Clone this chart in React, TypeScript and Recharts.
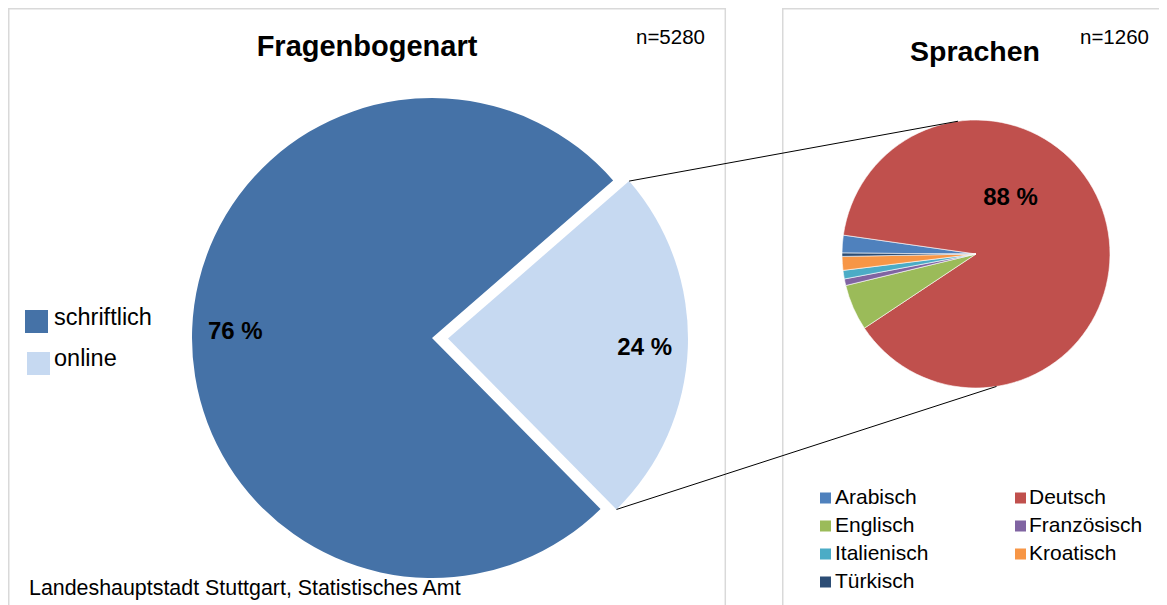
import React from "react";
import { PieChart, Pie, Cell } from "recharts";

// ---------- data ----------
const formCategories = ["schriftlich", "online"];
const formShares = [76, 24];
const formTitle = "Fragenbogenart";
const formN = "n=5280";

const languageCategories = [
  "Arabisch",
  "Deutsch",
  "Englisch",
  "Französisch",
  "Italienisch",
  "Kroatisch",
  "Türkisch",
];
const languageCounts = [27, 1114, 70, 10, 13, 21, 5];
const languageTitle = "Sprachen";
const languageN = "n=1260";

const sourceNote = "Landeshauptstadt Stuttgart, Statistisches Amt";

// ---------- styles ----------
const FONT = "'Liberation Sans', Arial, Helvetica, sans-serif";
const formColors = ["#4572A7", "#C6D9F1"];
const languageColors = [
  "#4F81BD",
  "#C0504D",
  "#9BBB59",
  "#8064A2",
  "#4BACC6",
  "#F79646",
  "#2C4D75",
];

const W = 1159;
const H = 597;

// left pie geometry
const L_CX = 424;
const L_CY = 330;
const L_R = 240;
const L_START = 314.6;
const EXPLODE = 16;
const EXPLODE_ANGLE = -2; // direction of the exploded slice
const LX_CX = L_CX + EXPLODE * Math.cos((EXPLODE_ANGLE * Math.PI) / 180);
const LX_CY = L_CY - EXPLODE * Math.sin((EXPLODE_ANGLE * Math.PI) / 180);

// right pie geometry
const R_CX = 968;
const R_CY = 246;
const R_R = 134;
const R_START = 179.6;
const R_LINE_TOP_ANGLE = 97.7;
const R_LINE_BOTTOM_ANGLE = -81.2;
const DEUTSCH_LABEL_ANGLE = 59;
const DEUTSCH_LABEL_RADIUS = 0.5;

const formData = formCategories.map((name, i) => ({ name, value: formShares[i] }));
const languageData = languageCategories.map((name, i) => ({
  name,
  value: languageCounts[i],
}));

const polar = (cx: number, cy: number, r: number, angle: number) => ({
  x: cx + r * Math.cos((angle * Math.PI) / 180),
  y: cy - r * Math.sin((angle * Math.PI) / 180),
});

const makeLeftLabel = (visibleIndex: number) => (props: any) => {
  if (props.index !== visibleIndex) return null;
  const p = polar(props.cx, props.cy, props.outerRadius * 0.82, props.midAngle);
  return (
    <text
      x={p.x}
      y={p.y}
      textAnchor="middle"
      dominantBaseline="central"
      fontFamily={FONT}
      fontWeight="bold"
      fontSize={24}
      fill="#000"
    >
      {`${formShares[visibleIndex]} %`}
    </text>
  );
};

const renderLanguageLabel = (props: any) => {
  if (props.index !== 1) return null;
  const p = polar(
    props.cx,
    props.cy,
    props.outerRadius * DEUTSCH_LABEL_RADIUS,
    DEUTSCH_LABEL_ANGLE
  );
  return (
    <text
      x={p.x}
      y={p.y}
      textAnchor="middle"
      dominantBaseline="central"
      fontFamily={FONT}
      fontWeight="bold"
      fontSize={24}
      fill="#000"
    >
      {`${Math.round(props.percent * 100)} %`}
    </text>
  );
};

export default function App() {
  const total = formShares.reduce((a, b) => a + b, 0);
  const onlineStart = L_START - (formShares[0] / total) * 360;
  const onlineEnd = onlineStart - (formShares[1] / total) * 360;
  const c1 = polar(LX_CX, LX_CY, L_R, onlineStart);
  const c2 = polar(LX_CX, LX_CY, L_R, onlineEnd);
  const t1 = polar(R_CX, R_CY, R_R, R_LINE_TOP_ANGLE);
  const t2 = polar(R_CX, R_CY, R_R, R_LINE_BOTTOM_ANGLE);

  return (
    <div
      style={{
        position: "relative",
        width: W,
        height: H,
        overflow: "hidden",
        fontFamily: FONT,
        background: "#fff",
      }}
    >
      <PieChart width={W} height={H} margin={{ top: 0, right: 0, bottom: 0, left: 0 }}>
        <Pie
          data={formData}
          dataKey="value"
          nameKey="name"
          cx={L_CX}
          cy={L_CY}
          outerRadius={L_R}
          startAngle={L_START}
          endAngle={L_START - 360}
          stroke="none"
          label={makeLeftLabel(0)}
          labelLine={false}
          isAnimationActive={false}
        >
          <Cell fill={formColors[0]} />
          <Cell fill="transparent" />
        </Pie>
        <Pie
          data={formData}
          dataKey="value"
          nameKey="name"
          cx={LX_CX}
          cy={LX_CY}
          outerRadius={L_R}
          startAngle={L_START}
          endAngle={L_START - 360}
          stroke="none"
          label={makeLeftLabel(1)}
          labelLine={false}
          isAnimationActive={false}
        >
          <Cell fill="transparent" />
          <Cell fill={formColors[1]} />
        </Pie>
        <Pie
          data={languageData}
          dataKey="value"
          nameKey="name"
          cx={R_CX}
          cy={R_CY}
          outerRadius={R_R}
          startAngle={R_START}
          endAngle={R_START - 360}
          stroke="#ffffff"
          strokeWidth={0.6}
          label={renderLanguageLabel}
          labelLine={false}
          isAnimationActive={false}
        >
          {languageData.map((d, i) => (
            <Cell key={d.name} fill={languageColors[i]} />
          ))}
        </Pie>
      </PieChart>

      <svg
        width={W}
        height={H}
        style={{ position: "absolute", left: 0, top: 0, pointerEvents: "none" }}
      >
        {/* panel borders */}
        <path
          d={`M0.75 ${H + 5} V0.75 H717.3 V${H + 5}`}
          fill="none"
          stroke="#D9D9D9"
          strokeWidth={1.5}
        />
        <path
          d={`M774.75 ${H + 5} V0.75 H${W + 10}`}
          fill="none"
          stroke="#D9D9D9"
          strokeWidth={1.5}
        />

        {/* connector lines */}
        <line x1={c1.x} y1={c1.y} x2={t1.x} y2={t1.y} stroke="#000" strokeWidth={1} />
        <line x1={c2.x} y1={c2.y} x2={t2.x} y2={t2.y} stroke="#000" strokeWidth={1} />

        {/* titles */}
        <text x={359} y={48} textAnchor="middle" fontSize={29} fontWeight="bold" fontFamily={FONT}>
          {formTitle}
        </text>
        <text x={628} y={36} fontSize={20.5} fontFamily={FONT}>
          {formN}
        </text>
        <text x={967} y={53} textAnchor="middle" fontSize={28.5} fontWeight="bold" fontFamily={FONT}>
          {languageTitle}
        </text>
        <text x={1072} y={36} fontSize={20.5} fontFamily={FONT}>
          {languageN}
        </text>

        {/* left legend */}
        {formCategories.map((name, i) => (
          <g key={name}>
            <rect x={17 + i * 2} y={302 + i * 42} width={23} height={23} fill={formColors[i]} />
            <text x={46} y={317 + i * 41} fontSize={23.5} fontFamily={FONT}>
              {name}
            </text>
          </g>
        ))}

        {/* right legend */}
        {languageCategories.map((name, i) => {
          const col = i % 2;
          const row = Math.floor(i / 2);
          return (
            <g key={name}>
              <rect
                x={col === 0 ? 812 : 1007}
                y={484.5 + row * 28}
                width={11}
                height={11}
                fill={languageColors[i]}
              />
              <text
                x={col === 0 ? 827 : 1021}
                y={495.5 + row * 28}
                fontSize={21}
                fontFamily={FONT}
              >
                {name}
              </text>
            </g>
          );
        })}

        {/* source */}
        <text x={21} y={587} fontSize={21.4} fontFamily={FONT}>
          {sourceNote}
        </text>
      </svg>
    </div>
  );
}
